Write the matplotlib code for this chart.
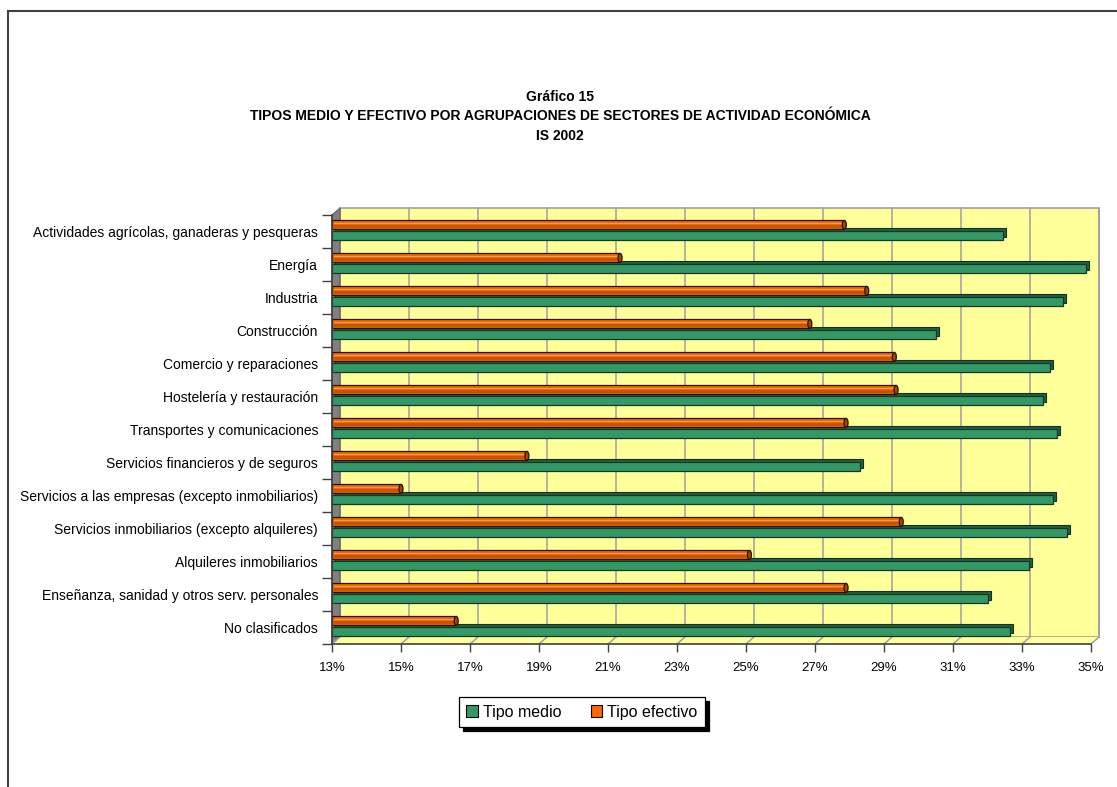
import matplotlib
matplotlib.use("Agg")
import matplotlib.pyplot as plt
from matplotlib.patches import Rectangle, Polygon, Ellipse, Patch
from matplotlib.lines import Line2D

plt.rcParams['font.family'] = ['Liberation Sans', 'DejaVu Sans']

sectores = [
    "Actividades agrícolas, ganaderas y pesqueras",
    "Energía",
    "Industria",
    "Construcción",
    "Comercio y reparaciones",
    "Hostelería y restauración",
    "Transportes y comunicaciones",
    "Servicios financieros y de seguros",
    "Servicios a las empresas (excepto inmobiliarios)",
    "Servicios inmobiliarios (excepto alquileres)",
    "Alquileres inmobiliarios",
    "Enseñanza, sanidad y otros serv. personales",
    "No clasificados",
]
tipo_medio = [32.45, 34.85, 34.2, 30.5, 33.8, 33.6, 34.0, 28.3, 33.9, 34.3, 33.2, 32.0, 32.65]
tipo_efectivo = [27.85, 21.35, 28.5, 26.85, 29.3, 29.35, 27.9, 18.65, 15.0, 29.5, 25.1, 27.9, 16.6]
ticks = list(range(13, 36, 2))

W, H = 1117, 787
fig = plt.figure(figsize=(W / 100, H / 100), dpi=100)
fig.patch.set_facecolor('white')

# axes box in pixels: x 332..1091, y 215..644
ax_l, ax_t, ax_w, ax_h = 332, 215, 759, 429
ax = fig.add_axes([ax_l / W, 1 - (ax_t + ax_h) / H, ax_w / W, ax_h / H])
xmin, xmax = 13, 35
n = len(sectores)
ax.set_xlim(xmin, xmax)
ax.set_ylim(n - 0.5, -0.5)
ax.patch.set_visible(False)

# pixel -> data conversions
px_x = (xmax - xmin) / ax_w
px_y = n / ax_h

# 3D depth of walls and bars
wdx, wdy = 8 * px_x, -7 * px_y
bdx, bdy = 3 * px_x, -3 * px_y

top, bot = -0.5, n - 0.5
# back wall
ax.add_patch(Rectangle((xmin + wdx, top + wdy), xmax - xmin, n,
                       facecolor='#FFFF99', edgecolor='#A0A0A0', lw=1.2, zorder=0, clip_on=False))
# side wall
ax.add_patch(Polygon([(xmin, top), (xmin + wdx, top + wdy), (xmin + wdx, bot + wdy), (xmin, bot)],
                     closed=True, facecolor='#808080', edgecolor='#606060', lw=0.8, zorder=1,
                     clip_on=False))
# floor
ax.add_patch(Polygon([(xmin, bot), (xmax, bot), (xmax + wdx, bot + wdy), (xmin + wdx, bot + wdy)],
                     closed=True, facecolor='#FFFF99', edgecolor='none', zorder=1, clip_on=False))
for t in ticks:
    ax.plot([t + wdx, t + wdx], [top + wdy, bot + wdy], color='#A0A0A0', lw=1.1, zorder=0.5,
            clip_on=False)
    ax.plot([t, t + wdx], [bot, bot + wdy], color='#A0A0A0', lw=1.1, zorder=1.5, clip_on=False)

g_c, g_h = 0.12, 0.28
o_c, o_h = -0.20, 0.27

for i in range(n):
    # tipo medio: box bar with top and end faces
    gm = tipo_medio[i]
    ax.add_patch(Rectangle((xmin + bdx, i + g_c - g_h / 2 + bdy), gm - xmin, g_h,
                           facecolor='#1F6142', edgecolor='#16301f', lw=0.8, zorder=3))
    ax.add_patch(Rectangle((xmin, i + g_c - g_h / 2), gm - xmin, g_h,
                           facecolor='#339966', edgecolor='#1a3526', lw=0.9, zorder=4))
    # tipo efectivo: cylinder
    ef = tipo_efectivo[i]
    y0 = i + o_c - o_h / 2
    ax.add_patch(Rectangle((xmin, y0), ef - xmin, o_h,
                           facecolor='#EE6A0C', edgecolor='#2a1200', lw=0.9, zorder=5))
    ax.add_patch(Rectangle((xmin + 0.05, y0 + o_h * 0.55), ef - xmin - 0.1, o_h * 0.35,
                           facecolor='#C85300', edgecolor='none', zorder=5.5))
    ax.add_patch(Rectangle((xmin + 0.05, y0 + o_h * 0.30), ef - xmin - 0.1, o_h * 0.14,
                           facecolor='#FF9A45', edgecolor='none', zorder=5.5))
    ax.add_patch(Ellipse((ef, i + o_c), 4 * px_x, o_h,
                         facecolor='#A84300', edgecolor='#2a1200', lw=0.9, zorder=6))

ax.set_xticks(ticks)
ax.set_xticklabels([f"{t}%" for t in ticks], fontsize=9.5)
ax.set_yticks(range(n))
ax.set_yticklabels(sectores, fontsize=10)
ax.set_yticks([k - 0.5 for k in range(n + 1)], minor=True)
ax.tick_params(axis='y', which='major', length=0, pad=10)
ax.tick_params(axis='y', which='minor', length=7, width=1, color='#404040', direction='out')
ax.tick_params(axis='x', length=6, width=1, color='#404040', pad=7)
for s in ['top', 'right']:
    ax.spines[s].set_visible(False)
for s in ['left', 'bottom']:
    ax.spines[s].set_color('#404040')
    ax.spines[s].set_linewidth(1.2)
    ax.spines[s].set_zorder(7)

fig.text(560 / W, 1 - 97 / H, "Gráfico 15", ha='center', va='center', fontsize=10, fontweight='bold')
fig.text(560 / W, 1 - 116 / H,
         "TIPOS MEDIO Y EFECTIVO POR AGRUPACIONES DE SECTORES DE ACTIVIDAD ECONÓMICA",
         ha='center', va='center', fontsize=10, fontweight='bold')
fig.text(560 / W, 1 - 136 / H, "IS 2002", ha='center', va='center', fontsize=10, fontweight='bold')

handles = [Patch(facecolor='#339966', edgecolor='black', lw=0.8, label='Tipo medio'),
           Patch(facecolor='#FF6600', edgecolor='black', lw=0.8, label='Tipo efectivo')]
leg = fig.legend(handles=handles, loc='center', bbox_to_anchor=(582 / W, 1 - 712 / H),
                 ncol=2, fontsize=11.5, frameon=True, fancybox=False,
                 shadow={'ox': 3, 'oy': -3, 'facecolor': 'black', 'edgecolor': 'black', 'alpha': 1},
                 handlelength=0.75, handleheight=0.75, handletextpad=0.3, columnspacing=1.8,
                 borderpad=0.45, edgecolor='black')
leg.get_frame().set_linewidth(0.9)

# outer frame
fig.add_artist(Line2D([8 / W, 8 / W], [0, 1 - 11 / H], color='#404040', lw=1.5))
fig.add_artist(Line2D([8 / W, 1], [1 - 11 / H, 1 - 11 / H], color='#404040', lw=1.5))

fig.savefig("out.png", dpi=100)
